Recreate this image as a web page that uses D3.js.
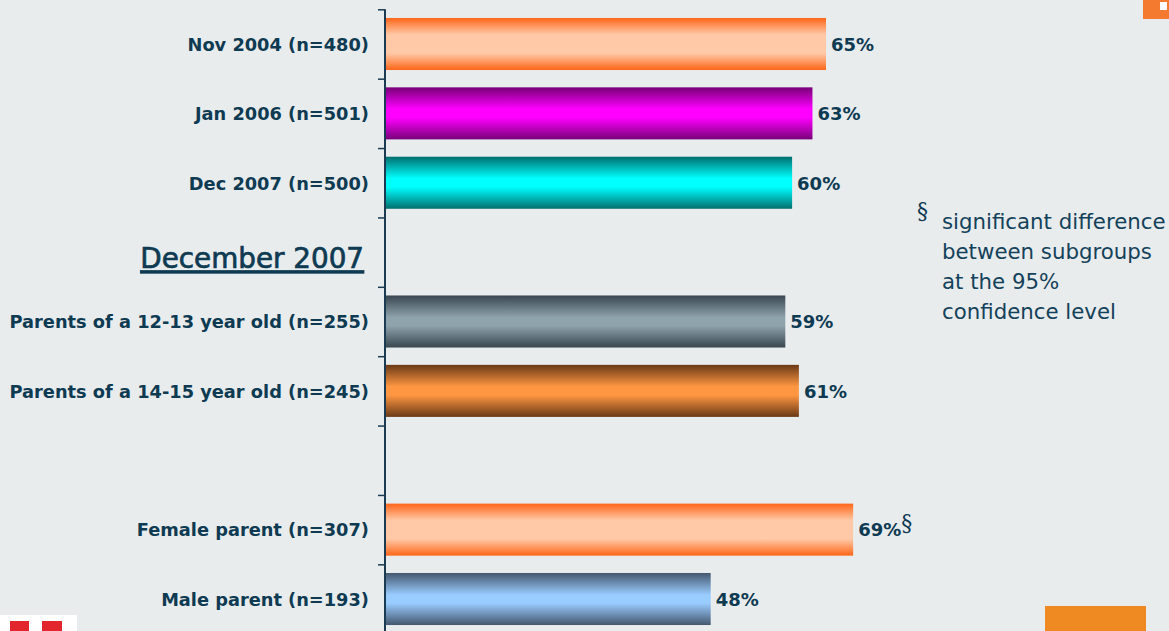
<!DOCTYPE html>
<html>
<head>
<meta charset="utf-8">
<script src="https://cdn.jsdelivr.net/npm/d3@7"></script>
<style>
  html, body { margin: 0; padding: 0; background: #E8ECED; }
  svg { display: block; }
</style>
</head>
<body>
<div id="container"></div>
<script>
// DATA
const categories = [
    'Nov 2004 (n=480)',
    'Jan 2006 (n=501)',
    'Dec 2007 (n=500)',
    'December 2007',
    'Parents of a 12-13 year old (n=255)',
    'Parents of a 14-15 year old (n=245)',
    '',
    'Female parent (n=307)',
    'Male parent (n=193)'
]
const values = [65, 63, 60, null, 59, 61, null, 69, 48]
const significant = [false, false, false, false, false, false, false, true, false]
const headerRow = 'December 2007'
const footnoteLines = ['significant difference', 'between subgroups', 'at the 95%', 'confidence level']

// palette: [edge, centre] per row
const palette = [
    ['#FF6619', '#FFC8A6'],
    ['#780078', '#FF00FF'],
    ['#006E6E', '#00FFFF'],
    null,
    ['#38464F', '#8FA3AD'],
    ['#6A3916', '#FF9742'],
    null,
    ['#FF6619', '#FFC8A6'],
    ['#44576E', '#99CCFF']
]

//BOX
const w = 1169
const h = 631
const x0 = 385
const textColor = '#0E3A52'

const svg = d3.select('#container')
    .append('svg')
    .attr('width', w)
    .attr('height', h)

svg.append('rect')
    .attr('width', w)
    .attr('height', h)
    .attr('fill', '#E8ECED')

//SCALES
const xscale = d3.scaleLinear()
    .domain([0, 100])
    .range([x0, x0 + 678.5])

const yscale = d3.scaleBand()
    .domain(d3.range(categories.length))
    .range([9.3, 633.7])
    .paddingInner(0.25)
    .paddingOuter(0.125)

const tickscale = d3.scaleLinear()
    .domain([0, categories.length])
    .range([9.3, 633.7])

//GRADIENTS
const defs = svg.append('defs')
palette.forEach((p, i) => {
    if (!p) return
    const soft = i === 0 || i === 7
    const g = defs.append('linearGradient')
        .attr('id', 'grad' + i)
        .attr('x1', 0).attr('y1', 0)
        .attr('x2', 0).attr('y2', 1)
    g.append('stop').attr('offset', 0).attr('stop-color', p[0])
    g.append('stop').attr('offset', soft ? 0.32 : 0.42).attr('stop-color', p[1])
    g.append('stop').attr('offset', soft ? 0.68 : 0.58).attr('stop-color', p[1])
    g.append('stop').attr('offset', 1).attr('stop-color', p[0])
})

const rows = categories.map((c, i) => ({ i: i, label: c, value: values[i], sig: significant[i] }))
const barRows = rows.filter(d => d.value !== null)

//BARS
svg.append('g')
    .selectAll('rect')
    .data(barRows)
    .enter()
    .append('rect')
    .attr('x', x0)
    .attr('y', d => yscale(d.i))
    .attr('width', d => xscale(d.value) - x0)
    .attr('height', yscale.bandwidth())
    .attr('fill', d => 'url(#grad' + d.i + ')')

//AXIS
svg.append('g')
    .attr('class', 'y axis')
    .attr('transform', 'translate(' + x0 + ',0)')
    .call(d3.axisLeft(tickscale)
        .tickValues(d3.range(categories.length))
        .tickFormat('')
        .tickSizeInner(7)
        .tickSizeOuter(0))
    .call(g => g.select('.domain').attr('stroke', '#1B3B52').attr('stroke-width', 2)
        .attr('d', 'M0,9.3V' + h))
    .call(g => g.selectAll('.tick line').attr('stroke', '#1B3B52').attr('stroke-width', 1.5))

//CATEGORY LABELS
svg.append('g')
    .selectAll('text')
    .data(rows.filter(d => d.label && d.label !== headerRow))
    .enter()
    .append('text')
    .attr('x', 369)
    .attr('y', d => yscale(d.i) + yscale.bandwidth() / 2)
    .attr('dy', '0.38em')
    .attr('text-anchor', 'end')
    .attr('font-family', 'DejaVu Sans, sans-serif')
    .attr('font-weight', 'bold')
    .attr('font-size', 17.8)
    .attr('fill', textColor)
    .text(d => d.label)

//HEADER ROW
const hdr = rows.find(d => d.label === headerRow)
svg.append('text')
    .attr('x', 364)
    .attr('y', yscale(hdr.i) + yscale.bandwidth() / 2 + 8)
    .attr('dy', '0.3em')
    .attr('text-anchor', 'end')
    .attr('font-family', 'DejaVu Sans, sans-serif')
    .attr('font-size', 27.8)
    .attr('fill', textColor)
    .attr('stroke', textColor)
    .attr('stroke-width', 0.7)
    .attr('text-decoration', 'underline')
    .text(hdr.label)

//VALUE LABELS
const vlab = svg.append('g')
    .selectAll('text')
    .data(barRows)
    .enter()
    .append('text')
    .attr('x', d => xscale(d.value) + 5)
    .attr('y', d => yscale(d.i) + yscale.bandwidth() / 2)
    .attr('dy', '0.38em')
    .attr('font-family', 'DejaVu Sans, sans-serif')
    .attr('font-weight', 'bold')
    .attr('font-size', 18)
    .attr('fill', textColor)
    .text(d => d.value + '%')

vlab.filter(d => d.sig)
    .append('tspan')
    .attr('font-family', 'DejaVu Serif, serif')
    .attr('font-weight', 'normal')
    .attr('font-size', 22)
    .attr('dy', '-0.3em')
    .text('§')

//FOOTNOTE
svg.append('text')
    .attr('x', 917)
    .attr('y', 218)
    .attr('font-family', 'DejaVu Serif, serif')
    .attr('font-size', 22)
    .attr('fill', textColor)
    .text('§')

svg.append('g')
    .selectAll('text')
    .data(footnoteLines)
    .enter()
    .append('text')
    .attr('x', 942)
    .attr('y', (d, i) => 229 + i * 30)
    .attr('font-family', 'DejaVu Sans, sans-serif')
    .attr('font-size', 21.3)
    .attr('fill', '#14425A')
    .text(d => d)

//DECORATIONS
svg.append('rect').attr('x', 1143).attr('y', 0).attr('width', 26).attr('height', 19).attr('fill', '#F47A30')
svg.append('rect').attr('x', 1160).attr('y', 2).attr('width', 7).attr('height', 8).attr('fill', '#FFFFFF')
svg.append('rect').attr('x', 1045).attr('y', 606).attr('width', 101).attr('height', 25).attr('fill', '#EF8A22')
svg.append('rect').attr('x', 0).attr('y', 615).attr('width', 77).attr('height', 16).attr('fill', '#FFFFFF')
svg.append('rect').attr('x', 10).attr('y', 621).attr('width', 19).attr('height', 10).attr('fill', '#E3262E')
svg.append('rect').attr('x', 42).attr('y', 621).attr('width', 20).attr('height', 10).attr('fill', '#E3262E')
</script>
</body>
</html>
